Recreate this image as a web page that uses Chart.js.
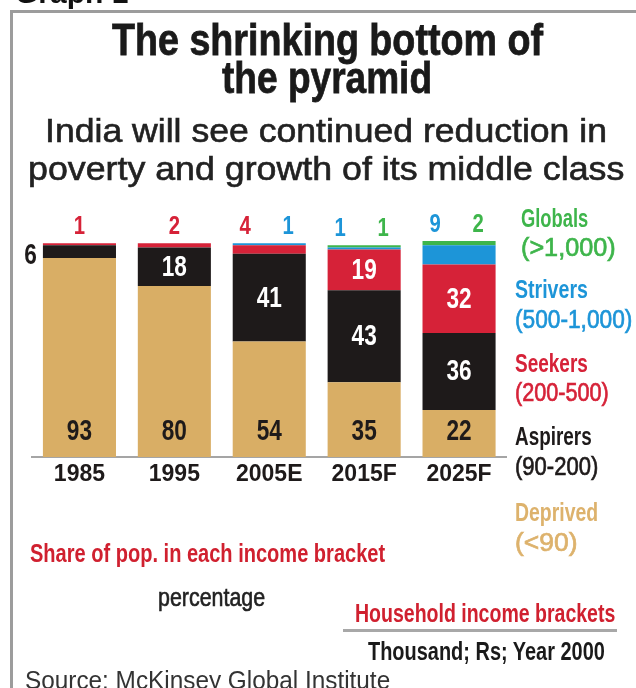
<!DOCTYPE html>
<html><head><meta charset="utf-8">
<script src="https://cdn.jsdelivr.net/npm/chart.js@4.4.1/dist/chart.umd.min.js"></script>
<style>
html,body{margin:0;padding:0;background:#fff;width:636px;height:688px;overflow:hidden;position:relative}
#frame{position:absolute;left:10px;top:10px;width:700px;height:800px;border-left:3px solid #9c9c9c;border-top:3px solid #9c9c9c}
#c{position:absolute;left:0;top:0}
.t{position:absolute;white-space:nowrap;line-height:1;margin:0}
#rule{position:absolute;left:343px;top:629px;width:274px;height:3px;background:#a8a8a8}
</style></head><body>
<div id="frame"></div>
<canvas id="c" width="636" height="688"></canvas>
<div id="rule"></div>
<script>
// ---- data ----
const categories = ['1985', '1995', '2005E', '2015F', '2025F'];
const deprived = [93, 80, 54, 35, 22];
const aspirers = [6, 18, 41, 43, 36];
const seekers  = [1, 2, 4, 19, 32];
const strivers = [0, 0, 1, 1, 9];
const globals  = [0, 0, 0, 1, 2];
const seriesNames = ['Deprived', 'Aspirers', 'Seekers', 'Strivers', 'Globals'];
const bracketLabels = ['(<90)', '(90-200)', '(200-500)', '(500-1,000)', '(>1,000)'];

// ---- styles ----
const SANS = "'Liberation Sans',Arial,Helvetica,sans-serif";
const COLORS = ['#D9AE65', '#1E1A1A', '#D62238', '#1D95D8', '#3EB54B'];
const LEGEND_TEXT = ['#DDB26C', '#1E1A1A', '#D62238', '#1D95D8', '#3EB54B'];

function place(text, x, baseline, size, weight, color, width, anchor, stroke) {
  const d = document.createElement('div');
  d.className = 't';
  d.textContent = text;
  d.style.fontSize = size + 'px';
  d.style.fontWeight = weight;
  d.style.color = color;
  d.style.fontFamily = SANS;
  if (stroke) d.style.webkitTextStroke = stroke + 'px ' + color;
  document.body.appendChild(d);
  const w = d.offsetWidth;
  const sx = width ? width / w : 1;
  const left = anchor === 'center' ? x - (w * sx) / 2 : x;
  d.style.left = left + 'px';
  d.style.top = (baseline - 0.8465 * size) + 'px';
  d.style.transformOrigin = '0 0';
  d.style.transform = 'scaleX(' + sx + ')';
}

// headings
place('Graph 1', 15, 3, 30, 'bold', '#111', null, 'left');
place('The shrinking bottom of', 327, 55, 45, 'bold', '#1a1a1a', 431, 'center', 0.8);
place('the pyramid', 327, 93, 45, 'bold', '#1a1a1a', 210, 'center', 0.8);
place('India will see continued reduction in', 326, 142, 33, 'normal', '#222', 562, 'center', 0.6);
place('poverty and growth of its middle class', 326, 180, 33, 'normal', '#222', 596, 'center', 0.6);

// legend (built from series names / brackets)
const legendPos = [
  {x: 515, b1: 521, b2: 551, w1: 83, w2: 62},
  {x: 515, b1: 445, b2: 475, w1: 77, w2: 83},
  {x: 515, b1: 372, b2: 401, w1: 73, w2: 94},
  {x: 515, b1: 298, b2: 328, w1: 73, w2: 117},
  {x: 521, b1: 227, b2: 256, w1: 67, w2: 95}
];
seriesNames.forEach((n, i) => {
  const p = legendPos[i];
  place(n, p.x, p.b1, 26, 'bold', LEGEND_TEXT[i], p.w1, 'left');
  place(bracketLabels[i], p.x, p.b2, 26, 'normal', LEGEND_TEXT[i], p.w2, 'left', 0.7);
});

// footer texts
place('Share of pop. in each income bracket', 30, 562, 25, 'bold', '#D0202F', 355, 'left');
place('percentage', 158, 606, 25, 'normal', '#222', 107, 'left', 0.6);
place('Household income brackets', 355, 622, 25, 'bold', '#D0202F', 260, 'left');
place('Thousand; Rs; Year 2000', 368, 660, 25, 'bold', '#1a1a1a', 237, 'left');
place('Source: McKinsey Global Institute', 25, 689, 25, 'normal', '#333', 365, 'left');

// ---- value labels plugin ----
function narrowText(ctx, text, x, y, sx, align) {
  ctx.save();
  ctx.translate(x, y);
  ctx.scale(sx, 1);
  ctx.textAlign = align || 'center';
  ctx.fillText(text, 0, 0);
  ctx.restore();
}
const valueLabels = {
  id: 'valueLabels',
  afterDatasetsDraw(chart) {
    const ctx = chart.ctx;
    ctx.save();
    ctx.textBaseline = 'middle';
    const n = categories.length;
    const topY = new Array(n).fill(Infinity);
    const topItems = categories.map(() => []);
    chart.data.datasets.forEach((ds, di) => {
      const meta = chart.getDatasetMeta(di);
      meta.data.forEach((el, i) => {
        if (ds.data[i] > 0) topY[i] = Math.min(topY[i], el.y);
      });
    });
    ctx.font = 'bold 29px ' + SANS;
    chart.data.datasets.forEach((ds, di) => {
      const meta = chart.getDatasetMeta(di);
      meta.data.forEach((el, i) => {
        const v = ds.data[i];
        if (!v) return;
        const mid = (el.y + el.base) / 2;
        if (di === 0) {
          ctx.fillStyle = '#1E1A1A';
          narrowText(ctx, String(v), el.x, el.base - 25, 0.78);
        } else if (v >= 10) {
          ctx.fillStyle = '#ffffff';
          narrowText(ctx, String(v), el.x, mid + 1, 0.78);
        } else if (di === 1) {
          ctx.fillStyle = '#1E1A1A';
          narrowText(ctx, String(v), el.x - el.width / 2 - 6, mid + 4, 0.78, 'right');
        } else {
          topItems[i].push({v, color: COLORS[di], x: el.x});
        }
      });
    });
    ctx.font = 'bold 26px ' + SANS;
    topItems.forEach((items, i) => {
      const y = topY[i] - 16;
      if (items.length === 1) {
        ctx.fillStyle = items[0].color;
        narrowText(ctx, String(items[0].v), items[0].x, y, 0.78);
      } else {
        items.forEach((it, k) => {
          ctx.fillStyle = it.color;
          narrowText(ctx, String(it.v), it.x + (k === 0 ? -24 : 19), y, 0.78);
        });
      }
    });
    ctx.restore();
  }
};

const seriesData = [deprived, aspirers, seekers, strivers, globals];
new Chart(document.getElementById('c'), {
  type: 'bar',
  data: {
    labels: categories,
    datasets: seriesNames.map((name, i) => ({
      label: name,
      data: seriesData[i],
      backgroundColor: COLORS[i],
      borderWidth: 0,
      barPercentage: 0.77,
      categoryPercentage: 1.0
    }))
  },
  options: {
    responsive: false,
    animation: false,
    devicePixelRatio: 1,
    layout: {padding: {top: 241, left: 32, right: 129.5, bottom: 191}},
    plugins: {legend: {display: false}, title: {display: false}, tooltip: {enabled: false}},
    scales: {
      x: {
        stacked: true,
        grid: {display: false, drawTicks: false},
        border: {display: true, color: '#a5a5a5', width: 2, dash: [2, 2]},
        ticks: {color: '#1E1A1A', padding: 4, font: {family: SANS, size: 23, weight: 'bold'}},
        afterFit: (s) => { s.height = 40; }
      },
      y: {
        stacked: true,
        display: false,
        min: 0,
        max: 101
      }
    }
  },
  plugins: [valueLabels]
});
</script>
</body></html>
